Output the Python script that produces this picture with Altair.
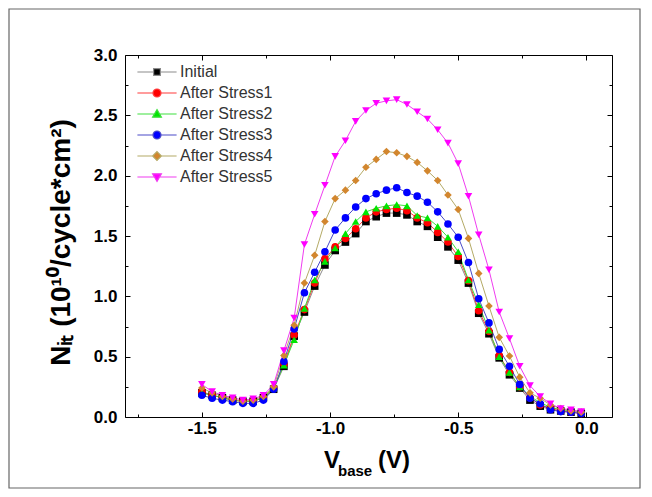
import altair as alt
import pandas as pd

# ---------------- data ----------------
series = ["Initial", "After Stress1", "After Stress2", "After Stress3", "After Stress4", "After Stress5"]

v_base = [-1.50, -1.46, -1.42, -1.38, -1.34, -1.30, -1.26, -1.22, -1.18, -1.14,
          -1.10, -1.06, -1.02, -0.98, -0.94, -0.90, -0.86, -0.82, -0.78, -0.74,
          -0.70, -0.66, -0.62, -0.58, -0.54, -0.50, -0.46, -0.42, -0.38, -0.34,
          -0.30, -0.26, -0.22, -0.18, -0.14, -0.10, -0.06, -0.02]

initial = [0.20, 0.18, 0.16, 0.14, 0.13, 0.13, 0.16, 0.23, 0.42, 0.67,
           0.87, 1.085, 1.26, 1.38, 1.45, 1.52, 1.62, 1.66, 1.69, 1.69,
           1.675, 1.62, 1.58, 1.49, 1.41, 1.30, 1.11, 0.86, 0.69, 0.49,
           0.35, 0.24, 0.14, 0.09, 0.06, 0.05, 0.04, 0.03]
stress1 = [0.21, 0.18, 0.16, 0.14, 0.13, 0.13, 0.16, 0.24, 0.44, 0.68,
           0.89, 1.11, 1.31, 1.41, 1.48, 1.56, 1.65, 1.70, 1.72, 1.73,
           1.71, 1.65, 1.61, 1.53, 1.45, 1.33, 1.13, 0.88, 0.71, 0.51,
           0.37, 0.25, 0.16, 0.10, 0.07, 0.05, 0.04, 0.03]
stress2 = [0.20, 0.18, 0.16, 0.14, 0.13, 0.13, 0.16, 0.24, 0.43, 0.64,
           0.90, 1.135, 1.29, 1.40, 1.52, 1.62, 1.70, 1.73, 1.75, 1.76,
           1.75, 1.67, 1.65, 1.58, 1.49, 1.37, 1.135, 0.93, 0.72, 0.50,
           0.37, 0.25, 0.17, 0.12, 0.08, 0.06, 0.05, 0.04]
stress3 = [0.18, 0.155, 0.14, 0.127, 0.113, 0.113, 0.14, 0.23, 0.46, 0.73,
           1.03, 1.20, 1.37, 1.55, 1.65, 1.74, 1.81, 1.85, 1.88, 1.90,
           1.86, 1.83, 1.78, 1.70, 1.60, 1.49, 1.28, 0.98, 0.78, 0.56,
           0.42, 0.27, 0.155, 0.11, 0.06, 0.045, 0.04, 0.03]
stress4 = [0.24, 0.20, 0.17, 0.15, 0.13, 0.14, 0.17, 0.25, 0.51, 0.76,
           1.11, 1.34, 1.62, 1.81, 1.88, 1.96, 2.07, 2.135, 2.20, 2.19,
           2.16, 2.11, 2.04, 1.96, 1.84, 1.72, 1.48, 1.19, 0.92, 0.66,
           0.505, 0.33, 0.20, 0.155, 0.10, 0.07, 0.05, 0.04]
stress5 = [0.27, 0.21, 0.18, 0.16, 0.14, 0.15, 0.18, 0.27, 0.55, 0.82,
           1.43, 1.68, 1.92, 2.16, 2.29, 2.45, 2.54, 2.60, 2.62, 2.63,
           2.59, 2.53, 2.47, 2.38, 2.27, 2.10, 1.83, 1.51, 1.22, 0.87,
           0.65, 0.42, 0.26, 0.17, 0.11, 0.07, 0.06, 0.045]

values = [initial, stress1, stress2, stress3, stress4, stress5]

x_major_ticks = [-1.5, -1.0, -0.5, 0.0]
x_minor_ticks = [-1.75, -1.25, -0.75, -0.25]
y_major_ticks = [0.0, 0.5, 1.0, 1.5, 2.0, 2.5, 3.0]
y_minor_ticks = [0.25, 0.75, 1.25, 1.75, 2.25, 2.75]

y_title = "Nᵢₜ (10¹⁰/cycle*cm²)"
x_title_parts = ["V", "base", "(V)"]

# ---------------- styling ----------------
line_colors = ["#8c8c8c", "#ff3b3b", "#3ee03e", "#4a4ac8", "#b4aa66", "#f03cf0"]
marker_colors = ["#000000", "#ff0000", "#00e600", "#0000ff", "#d2862e", "#ff00ff"]
marker_shapes = ["square", "circle", "triangle-up", "circle", "diamond", "triangle-down"]
legend_shapes = [
    "M-4.9,0H-0.85M0.85,0H4.9M-0.85,-0.85H0.85V0.85H-0.85Z",
    "M-4.9,0H-1M1,0H4.9M-1,0A1,1,0,1,0,1,0A1,1,0,1,0,-1,0Z",
    "M-4.9,0H-0.64M0.64,0H4.9M0,-1.1L1.1,0.8L-1.1,0.8Z",
    "M-4.9,0H-1M1,0H4.9M-1,0A1,1,0,1,0,1,0A1,1,0,1,0,-1,0Z",
    "M-4.9,0H-1.1M1.1,0H4.9M0,-1.1L1.1,0L0,1.1L-1.1,0Z",
    "M-4.9,0H-0.64M0.64,0H4.9M0,1.1L1.1,-0.8L-1.1,-0.8Z",
]

rows = []
for s, vals in zip(series, values):
    for x, y in zip(v_base, vals):
        rows.append({"series": s, "V": x, "N": y})
df = pd.DataFrame(rows)

FONT = "Liberation Sans"
W, H = 487, 362

x_scale = alt.Scale(domain=[-1.8, 0.1], nice=False, zero=False)
y_scale = alt.Scale(domain=[0.0, 3.0], nice=False, zero=False)

label_expr = "(datum.value < 0 ? '-' : '') + format(abs(datum.value), '.1f')"


def axis(orient, vals, major, labels=False, **kw):
    size = 5 if major else 3
    return alt.Axis(orient=orient, values=vals, tickSize=size, offset=-size,
                    domain=False, grid=False, labels=labels, tickColor="black",
                    tickWidth=1, title=None, **kw)


x_axis_main = axis("bottom", x_major_ticks, True, labels=True, labelExpr=label_expr,
                   labelFont=FONT, labelFontSize=17, labelFontWeight="bold",
                   labelColor="black", labelPadding=3, labelFlush=False,
                   labelOverlap=False)
y_axis_main = alt.Axis(orient="left", values=y_major_ticks, tickSize=5, offset=-5,
                       domain=False, grid=False, tickColor="black", tickWidth=1,
                       labelExpr=label_expr, labelFont=FONT, labelFontSize=17,
                       labelFontWeight="bold", labelColor="black", labelPadding=8,
                       labelFlush=False, labelOverlap=False,
                       title=y_title, titleFont=FONT, titleFontSize=28,
                       titleFontWeight="bold", titleColor="black", titleAngle=270,
                       titleAlign="center", titleBaseline="alphabetic",
                       titleX=-61, titleY=187)

base = alt.Chart(df)

lines = base.mark_line(strokeWidth=1).encode(
    x=alt.X("V:Q", scale=x_scale, axis=None),
    y=alt.Y("N:Q", scale=y_scale, axis=None),
    stroke=alt.Stroke("series:N", scale=alt.Scale(domain=series, range=line_colors), legend=None),
)

points = base.mark_point(filled=True, size=58, opacity=1).encode(
    x=alt.X("V:Q", scale=x_scale, axis=x_axis_main),
    y=alt.Y("N:Q", scale=y_scale, axis=y_axis_main),
    fill=alt.Fill("series:N", scale=alt.Scale(domain=series, range=marker_colors), legend=None),
    shape=alt.Shape("series:N", scale=alt.Scale(domain=series, range=marker_shapes), legend=None),
)

empty = base.transform_filter("false")

minor_axes = empty.mark_point().encode(
    x=alt.X("V:Q", scale=x_scale, axis=axis("bottom", x_minor_ticks, False)),
    y=alt.Y("N:Q", scale=y_scale, axis=axis("left", y_minor_ticks, False)),
)
mirror_major = empty.mark_point().encode(
    x=alt.X("V:Q", scale=x_scale, axis=axis("top", x_major_ticks, True)),
    y=alt.Y("N:Q", scale=y_scale, axis=axis("right", y_major_ticks, True)),
)
mirror_minor = empty.mark_point().encode(
    x=alt.X("V:Q", scale=x_scale, axis=axis("top", x_minor_ticks, False)),
    y=alt.Y("N:Q", scale=y_scale, axis=axis("right", y_minor_ticks, False)),
)

legend_layer = empty.mark_point(filled=True, size=64, strokeWidth=1.2, opacity=1).encode(
    x=alt.X("V:Q", scale=x_scale, axis=None),
    y=alt.Y("N:Q", scale=y_scale, axis=None),
    fill=alt.Fill("series:N", title=None,
                  scale=alt.Scale(domain=series, range=marker_colors)),
    stroke=alt.Stroke("series:N", title=None,
                      scale=alt.Scale(domain=series, range=line_colors)),
    shape=alt.Shape("series:N", title=None,
                    scale=alt.Scale(domain=series, range=legend_shapes)),
)

# outer figure frame (decoration)
frame = alt.Chart(pd.DataFrame({"k": [0]})).mark_rect(
    fill=None, stroke="#666666", strokeWidth=1.2, clip=False
).encode(x=alt.value(-116), x2=alt.value(515), y=alt.value(-46), y2=alt.value(433))

title_df = pd.DataFrame({"t": x_title_parts})
xt_v = alt.Chart(title_df).transform_filter("datum.t == 'V'").mark_text(
    font=FONT, fontSize=24, fontWeight="bold", color="black", align="left",
    baseline="alphabetic").encode(text="t:N", x=alt.value(199), y=alt.value(413))
xt_base = alt.Chart(title_df).transform_filter("datum.t == 'base'").mark_text(
    font=FONT, fontSize=15, fontWeight="bold", color="black", align="left",
    baseline="alphabetic").encode(text="t:N", x=alt.value(213), y=alt.value(421))
xt_unit = alt.Chart(title_df).transform_filter("datum.t == '(V)'").mark_text(
    font=FONT, fontSize=24, fontWeight="bold", color="black", align="left",
    baseline="alphabetic").encode(text="t:N", x=alt.value(253), y=alt.value(413))

chart = alt.layer(
    frame, lines, points, minor_axes, mirror_major, mirror_minor, legend_layer,
    xt_v, xt_base, xt_unit,
).resolve_axis(
    x="independent", y="independent"
).resolve_scale(
    fill="independent", stroke="independent", shape="independent"
).properties(
    width=W, height=H,
    autosize=alt.AutoSizeParams(type="none"),
    padding={"left": 117, "top": 47, "right": 32, "bottom": 72},
    background="white",
).configure_view(
    stroke="black", strokeWidth=1
).configure_legend(
    orient="none", legendX=24, legendY=9, padding=0,
    labelFont=FONT, labelFontSize=16, labelColor="#333333",
    symbolSize=64, symbolStrokeWidth=1.2, labelOffset=15, rowPadding=5,
    titleFontSize=0,
)

chart.save("out.html", embed_options={"renderer": "svg", "actions": False})
